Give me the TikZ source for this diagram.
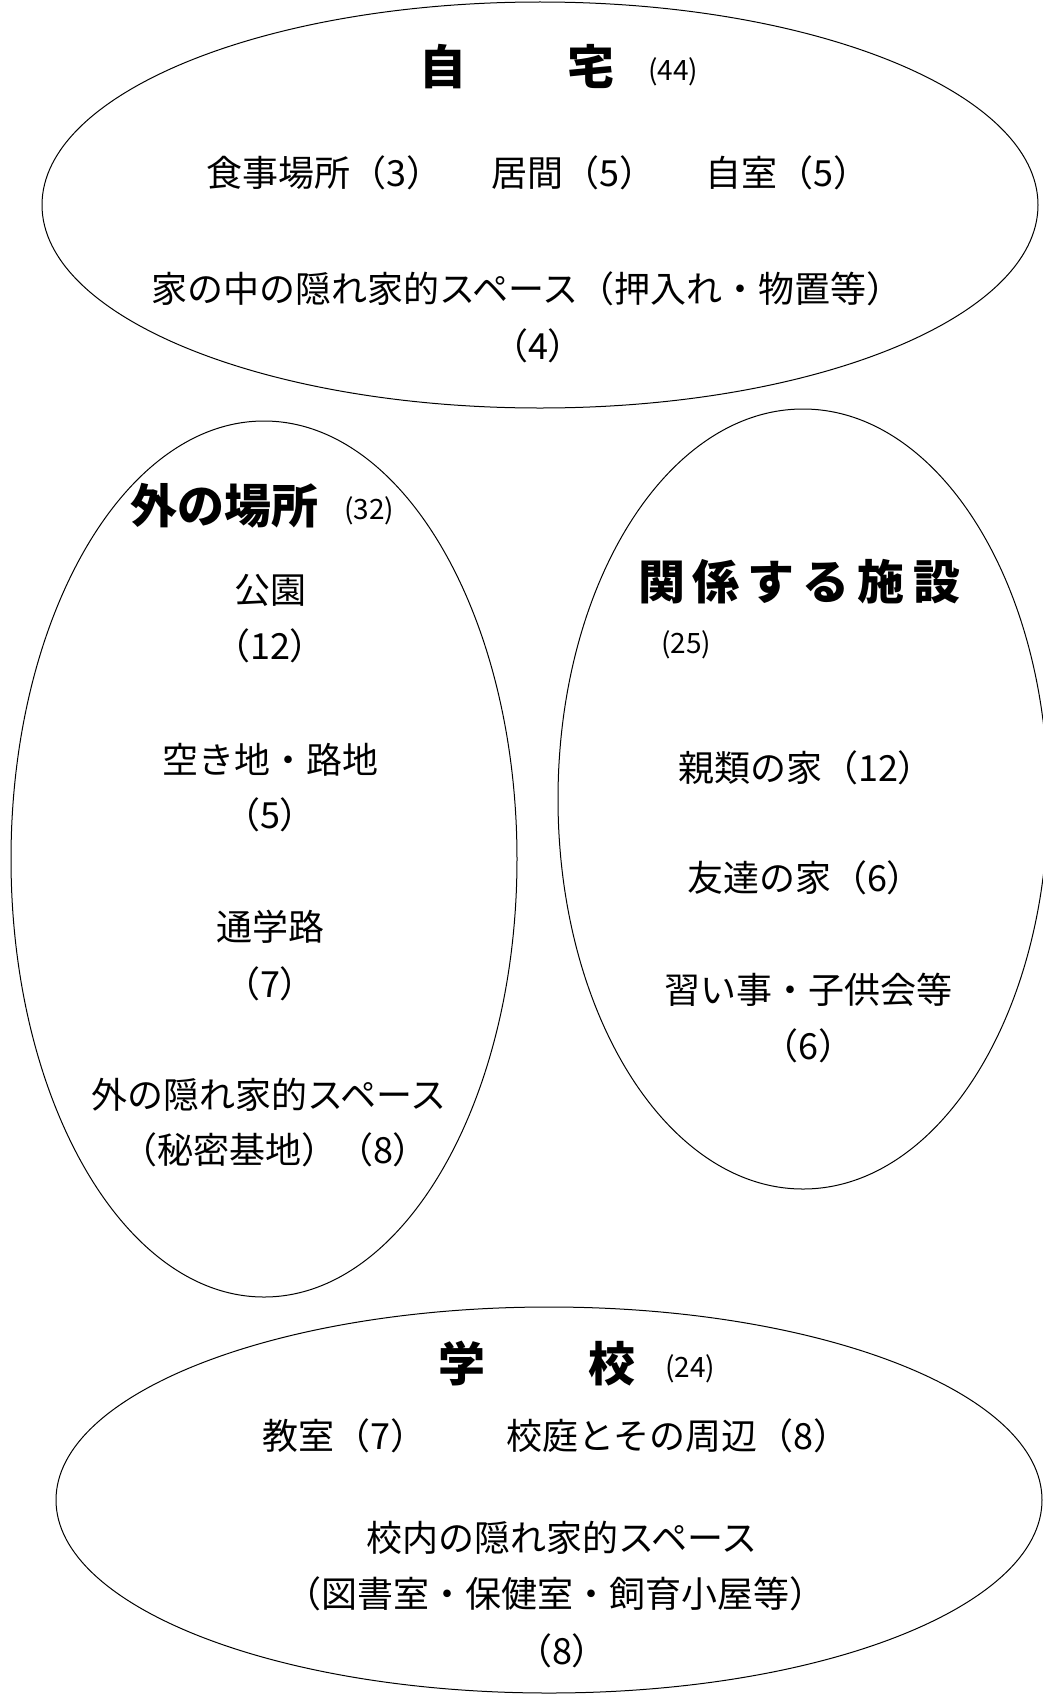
\documentclass[tikz,border=0pt]{standalone}
\usepackage{fontspec}
\newfontfamily\jp{Noto Sans CJK JP}
\tikzset{
 region/.style={draw=black, line width=1pt},
 body/.style={font=\jp\fontsize{36}{42}\selectfont, inner sep=0pt, anchor=center},
 ttl/.style={font=\jp\bfseries\fontsize{47}{53}\selectfont, inner sep=0pt},
 cnt/.style={font=\jp\fontsize{28}{32}\selectfont, inner sep=0pt},
}
\begin{document}
\begin{tikzpicture}[x=1pt,y=-1pt]
\useasboundingbox (0,0) rectangle (1042,1694);
\fill[white] (0,0) rectangle (1042,1694);
% regions
\draw[region] (540,205) ellipse [x radius=498, y radius=203];
\draw[region] (264,859) ellipse [x radius=253, y radius=438];
\draw[region] (803,799) ellipse [x radius=245, y radius=390];
\draw[region] (549,1500) ellipse [x radius=493, y radius=193];
% home
\node[ttl] (homeT) at (517,67) {自\hspace{102pt}宅};
\node[cnt] (homeN) at (673,72) {(44)};
\node[body] (home1) at (538,173) {食事場所（3）\hspace{50pt}居間（5）\hspace{50pt}自室（5）};
\node[body] (home2) at (527,289) {家の中の隠れ家的スペース（押入れ・物置等）};
\node[body] (home3) at (538,346) {（4）};
% outside
\node[ttl] (outT) at (224,506) {外の場所};
\node[cnt] (outN) at (369,511) {(32)};
\node[body] (out1) at (270,590) {公園};
\node[body] (out1n) at (270,646) {（12）};
\node[body] (out2) at (270,760) {空き地・路地};
\node[body] (out2n) at (270,815) {（5）};
\node[body] (out3) at (270,927) {通学路};
\node[body] (out3n) at (270,984) {（7）};
\node[body] (out4) at (269,1095) {外の隠れ家的スペース};
\node[body] (out4n) at (275,1150) {（秘密基地）（8）};
% facilities
\node[ttl] (facT) at (799,582) {関\hspace{8pt}係\hspace{8pt}す\hspace{8pt}る\hspace{8pt}施\hspace{8pt}設};
\node[cnt] (facN) at (686,645) {(25)};
\node[body] (fac1) at (806,768) {親類の家（12）};
\node[body] (fac2) at (805,878) {友達の家（6）};
\node[body] (fac3) at (808,990) {習い事・子供会等};
\node[body] (fac3n) at (808,1046) {（6）};
% school
\node[ttl] (schT) at (537,1364) {学\hspace{104pt}校};
\node[cnt] (schN) at (690,1369) {(24)};
\node[body] (sch1) at (556,1436) {教室（7）\hspace{80pt}校庭とその周辺（8）};
\node[body] (sch2) at (562,1538) {校内の隠れ家的スペース};
\node[body] (sch3) at (555,1594) {（図書室・保健室・飼育小屋等）};
\node[body] (sch4) at (562,1651) {（8）};
\end{tikzpicture}
\end{document}
